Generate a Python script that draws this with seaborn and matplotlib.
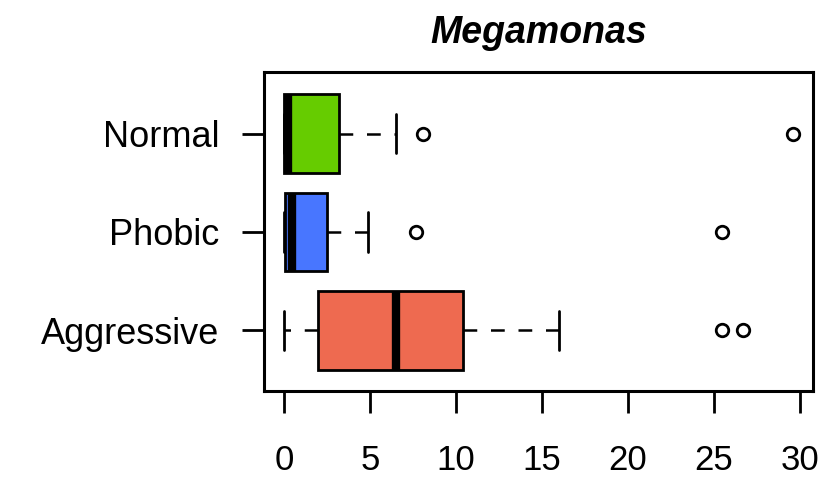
import numpy as np
import pandas as pd
import seaborn as sns
import matplotlib
matplotlib.use("Agg")
import matplotlib.pyplot as plt

# Values (abundance) per group, chosen so that box statistics match the reference
normal = [0, 0, 0, 0, 0.1, 0.2, 0.25, 1.0, 2.0, 3.2, 6.5, 8.1, 29.6]
phobic = [0, 0, 0, 0.05, 0.2, 0.4, 0.5, 1.0, 1.8, 2.5, 4.9, 7.7, 25.5]
aggressive = [0, 0.5, 1.2, 2.0, 3.5, 5.0, 6.5, 8.0, 9.0, 10.4, 16.0, 25.5, 26.7]

groups = ["Normal", "Phobic", "Aggressive"]
colors = ["#66CC00", "#4876FF", "#EE6A50"]
xticks = [0, 5, 10, 15, 20, 25, 30]
title = "Megamonas"

df = pd.DataFrame({
    "group": ["Normal"] * len(normal) + ["Phobic"] * len(phobic) + ["Aggressive"] * len(aggressive),
    "value": normal + phobic + aggressive,
})

sns.set_style("white")
plt.rcParams["font.family"] = ["Liberation Sans", "DejaVu Sans"]

fig = plt.figure(figsize=(8.35, 4.93), dpi=100)
ax = fig.add_axes([0.3156, 0.2059, 0.6581, 0.6471])

sns.boxplot(
    data=df, x="value", y="group", order=groups, hue="group", hue_order=groups,
    palette=colors, saturation=1, legend=False, orient="h", width=0.8, whis=1.5, ax=ax,
    linecolor="black", linewidth=2,
    medianprops=dict(color="black", linewidth=6, solid_capstyle="butt"),
    whiskerprops=dict(color="black", linewidth=1.8, linestyle=(0, (5.5, 5.5))),
    capprops=dict(color="black", linewidth=2),
    flierprops=dict(marker="o", markersize=9, markerfacecolor="none",
                    markeredgecolor="black", markeredgewidth=2),
    boxprops=dict(edgecolor="black", linewidth=2),
)

ax.set_xlim(-1.18, 30.78)
ax.set_ylim(2.62, -0.62)
ax.set_xticks(xticks)
ax.set_xticklabels([str(t) for t in xticks])
ax.set_xlabel("")
ax.set_ylabel("")
for s in ax.spines.values():
    s.set_visible(True)
    s.set_linewidth(2.2)
    s.set_color("black")
ax.tick_params(axis="x", length=16, width=2, pad=22, labelsize=25, colors="black", direction="out", bottom=True)
ax.tick_params(axis="y", length=16, width=2, pad=16, labelsize=26, colors="black", direction="out", left=True)
ax.set_title(title, fontsize=27, fontweight="bold", fontstyle="italic", pad=21, color="black")

fig.savefig("out.png", dpi=100)
